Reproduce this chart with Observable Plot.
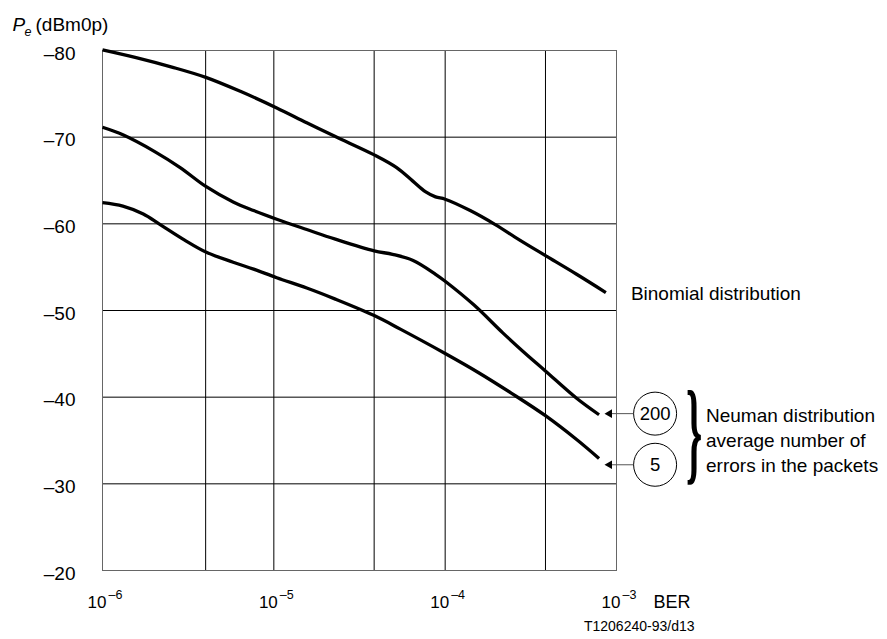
<!DOCTYPE html>
<html><head><meta charset="utf-8">
<script src="https://cdn.jsdelivr.net/npm/d3@7"></script>
<script src="https://cdn.jsdelivr.net/npm/@observablehq/plot@0.6"></script>
<style>body{margin:0;background:#fff}</style>
</head><body><div id="chart"></div>
<script>
// Binomial distribution
const binomialBer = [1.00e-6, 1.55e-6, 2.54e-6, 4.01e-6, 6.47e-6, 1.04e-5, 1.556e-5, 2.286e-5, 3.855e-5, 5.21e-5, 6.50e-5, 7.66e-5, 8.79e-5, 1.0e-4, 1.40e-4, 1.95e-4, 2.71e-4, 3.83e-4, 5.85e-4, 8.67e-4];
const binomialPe  = [-80.08, -79.21, -78.09, -76.90, -75.23, -73.37, -71.66, -70.07, -67.96, -66.49, -64.90, -63.71, -63.11, -62.84, -61.53, -59.94, -58.15, -56.36, -54.18, -52.07];
// Neuman distribution, average 200 errors
const neuman200Ber = [1.00e-6, 1.315e-6, 2.04e-6, 2.84e-6, 4.01e-6, 5.79e-6, 7.62e-6, 1.04e-5, 1.556e-5, 2.286e-5, 3.855e-5, 4.93e-5, 6.50e-5, 8.79e-5, 1.0e-4, 1.48e-4, 2.17e-4, 2.86e-4, 3.83e-4, 5.85e-4, 7.91e-4];
const neuman200Pe  = [-71.14, -70.27, -68.28, -66.49, -64.31, -62.52, -61.53, -60.53, -59.34, -58.23, -56.88, -56.48, -55.77, -54.18, -53.38, -50.60, -47.42, -45.24, -43.05, -39.87, -37.97];
// Neuman distribution, average 5 errors
const neuman5Ber = [1.00e-6, 1.315e-6, 1.73e-6, 2.16e-6, 3.00e-6, 4.01e-6, 5.79e-6, 7.62e-6, 1.04e-5, 1.556e-5, 2.286e-5, 3.855e-5, 5.51e-5, 1.0e-4, 1.56e-4, 2.43e-4, 3.83e-4, 5.85e-4, 7.91e-4];
const neuman5Pe  = [-62.44, -62.04, -61.13, -59.94, -58.15, -56.75, -55.57, -54.78, -53.78, -52.59, -51.31, -49.41, -47.82, -45.04, -42.85, -40.47, -37.89, -35.11, -32.92];

// axes / grid
const xGrid = [1e-6, 4e-6, 1e-5, 3.85e-5, 1e-4, 3.85e-4, 1e-3];
const xTicks = [1e-6, 1e-5, 1e-4, 1e-3];
const xTickBase = ["10", "10", "10", "10"];
const xTickExp = ["–6", "–5", "–4", "–3"];
const yGrid = [-80, -70, -60, -50, -40, -30, -20];
const yTicks = [-80, -70, -60, -50, -40, -30, -20];

// annotations
const markerLabels = ["200", "5"];
const markerPe = [-38.1, -32.2];
const markerBer = 1.68e-3;
const arrowFromBer = 1.26e-3, arrowToBer = 9.3e-4, arrowHeadBer = 9.1e-4;
const braceBer = 2.84e-3, bracePe = -35.15;
const neumanText = "Neuman distribution\naverage number of\nerrors in the packets";
const binomialText = "Binomial distribution";

const series = (xs, ys) => xs.map((x, i) => ({x, y: ys[i]}));
const markers = markerLabels.map((label, i) => ({label, pe: markerPe[i]}));
const lineOpts = {x: "x", y: "y", curve: "catmull-rom", stroke: "#000", strokeWidth: 3.3, strokeLinecap: "butt"};
const binomialData = series(binomialBer, binomialPe);

const chart = Plot.plot({
  width: 887, height: 639,
  marginLeft: 102, marginRight: 271, marginTop: 50, marginBottom: 69,
  style: {fontFamily: "'Liberation Sans', Arial, sans-serif", fontSize: "18px", background: "#fff", color: "#000"},
  x: {type: "log", domain: [1e-6, 1e-3], axis: null},
  y: {domain: [-80, -20], reverse: true},
  marks: [
    Plot.ruleX(xGrid, {stroke: "#000", strokeWidth: 1}),
    Plot.ruleY(yGrid, {stroke: "#000", strokeWidth: 1}),
    Plot.frame({stroke: "#666"}),
    Plot.axisY(yTicks, {tickSize: 0, tickPadding: 27, tickFormat: d => "–" + Math.abs(d), fontSize: 19, label: null, dy: 3}),
    Plot.line(binomialData, lineOpts),
    Plot.line(series(neuman200Ber, neuman200Pe), lineOpts),
    Plot.line(series(neuman5Ber, neuman5Pe), lineOpts),
    // x tick labels 10^n
    Plot.text(xTicks, {x: d => d, frameAnchor: "bottom", text: (d, i) => xTickBase[i], textAnchor: "end", lineAnchor: "bottom", dx: 4, dy: 37, fontSize: 17}),
    Plot.text(xTicks, {x: d => d, frameAnchor: "bottom", text: (d, i) => xTickExp[i], textAnchor: "start", lineAnchor: "bottom", dx: 6, dy: 28, fontSize: 12.5}),
    Plot.text(["BER"], {frameAnchor: "bottom-right", textAnchor: "start", lineAnchor: "bottom", dx: 37, dy: 37, fontSize: 18}),
    Plot.text(["T1206240-93/d13"], {frameAnchor: "bottom-right", textAnchor: "end", lineAnchor: "bottom", dx: 78, dy: 60, fontSize: 14}),
    // y axis title
    Plot.text(["P"], {frameAnchor: "top-left", textAnchor: "start", lineAnchor: "bottom", dx: -90, dy: -20, fontSize: 19, fontStyle: "italic"}),
    Plot.text(["e"], {frameAnchor: "top-left", textAnchor: "start", lineAnchor: "bottom", dx: -78, dy: -15, fontSize: 12.5, fontStyle: "italic"}),
    Plot.text(["(dBm0p)"], {frameAnchor: "top-left", textAnchor: "start", lineAnchor: "bottom", dx: -67, dy: -20, fontSize: 19}),
    // binomial label
    Plot.text([binomialData[binomialData.length - 1]], {x: "x", y: "y", text: () => binomialText, textAnchor: "start", dx: 25, dy: 1, fontSize: 19}),
    // arrows and circled labels
    Plot.link(markers, {x1: () => arrowFromBer, x2: () => arrowToBer, y1: "pe", y2: "pe", stroke: "#555", strokeWidth: 1}),
    Plot.dot(markers, {x: () => arrowHeadBer, y: "pe", symbol: "triangle", rotate: -90, r: 3.2, fill: "#000", stroke: "none"}),
    Plot.dot(markers, {x: () => markerBer, y: "pe", r: 21.5, fill: "#fff", stroke: "#000", strokeWidth: 1}),
    Plot.text(markers, {x: () => markerBer, y: "pe", text: "label", fontSize: 18.5}),
    // brace and Neuman text
    Plot.text(["}"], {x: () => braceBer, y: () => bracePe, dy: -6, fontSize: 114, fontWeight: "bold", fontFamily: "'Liberation Serif', serif", fill: "#000"}),
    Plot.text([neumanText], {x: () => 3.33e-3, y: () => bracePe, textAnchor: "start", lineHeight: 1.3, fontSize: 19})
  ]
});
document.getElementById("chart").append(chart);

// squeeze the brace glyph horizontally about its anchor point
const cx = chart.scale("x").apply(braceBer), cy = chart.scale("y").apply(bracePe);
chart.querySelectorAll("text").forEach(t => {
  if (t.textContent === "}") {
    const g = document.createElementNS("http://www.w3.org/2000/svg", "g");
    g.setAttribute("transform", `translate(${cx},${cy}) scale(0.36,1) translate(${-cx},${-cy})`);
    t.parentNode.insertBefore(g, t);
    g.appendChild(t);
  }
});
</script>
</body></html>
